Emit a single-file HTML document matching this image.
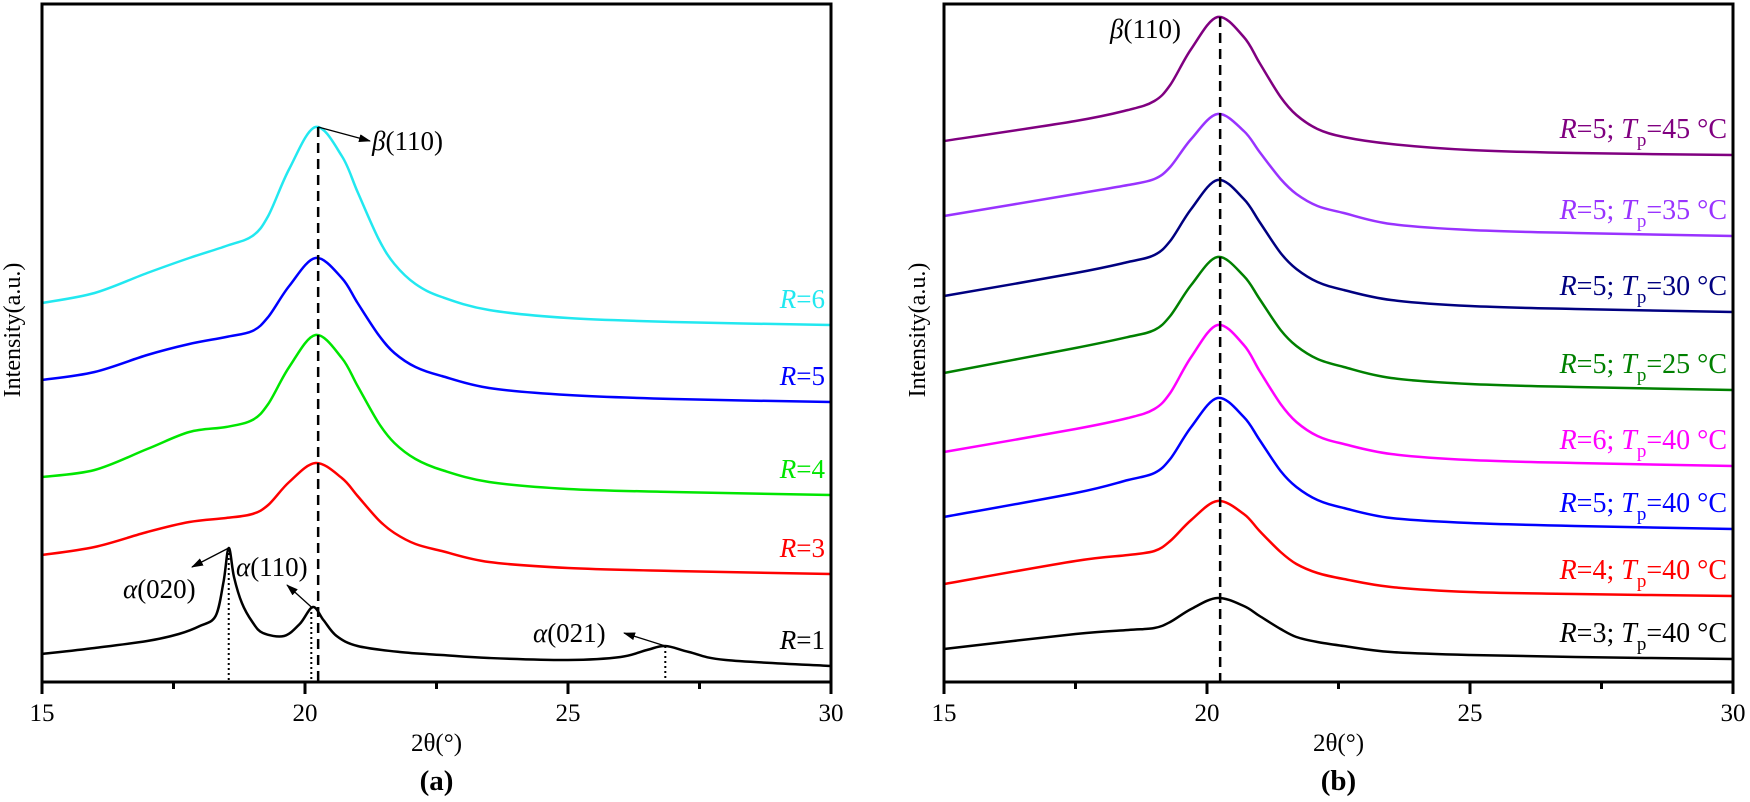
<!DOCTYPE html>
<html><head><meta charset="utf-8">
<style>
html,body{margin:0;padding:0;background:#fff;}
svg{display:block;font-family:"Liberation Serif",serif;}
</style></head>
<body>
<svg id="chart" width="1750" height="802" viewBox="0 0 1750 802" xmlns="http://www.w3.org/2000/svg">
<defs>
<marker id="ah" markerWidth="12" markerHeight="8" refX="11" refY="4" orient="auto" markerUnits="userSpaceOnUse">
<path d="M0,0 L12,4 L0,8 Z" fill="#000"/>
</marker>
</defs>
</svg>
<script>
// ---- shared axis data ----
const xMin = 15, xMax = 30;
const yMin = 0, yMax = 678;
const majorTicks = [15, 20, 25, 30];
const minorTicks = [17.5, 22.5, 27.5];
const tickLabels = ["15", "20", "25", "30"];

// ---- panel (a) data ----
const aX = [15,16,17,17.8,18.5,19.0,19.3,19.7,20.2,20.7,21.0,21.4,21.7,22.1,22.6,23.5,25,27,30];
const aR6 = [379,389,409,424,436,446,466,513,555,526,490,443,418,398,385,372,364,360,357];
const aR5 = [302,310,327,338,345,351,365,396,424,404,379,347,329,315,306,294,287,283,280];
const aR4 = [205,212,233,250,255,262,278,315,347,324,296,259,239,223,212,200,193,190,187];
const aR3 = [127,135,150,160,164,168,177,200,219,204,186,162,149,138,131,120,114,111,108];
const aR1X = [15,16,17,17.6,18,18.3,18.45,18.55,18.65,18.8,19.0,19.2,19.6,19.9,20.15,20.35,20.6,21,21.8,22.6,23.5,25,26,26.5,26.85,27.3,28,30];
const aR1 = [28,34,41,48,56,66,100,134,105,79,60,49,46,58,75,62,46,36,30,27,24,22,25,32,36,30,22,16];
const aLabels = ["R=6","R=5","R=4","R=3","R=1"];

// ---- panel (b) data ----
const bX = [15,17.5,18.5,19.0,19.3,19.7,20.2,20.7,21.0,21.4,21.7,22.1,22.6,23.5,25,27,30];
const bT45 = [541,561,572,581,597,633,665,645,619,585,567,553,545,538,532,529,527];
const bT35 = [466,488,497,503,515,543,568,551,530,503,488,476,469,458,452,449,446];
const bT30 = [386,409,420,427,441,473,502,483,460,429,413,400,392,382,376,373,370];
const bT25 = [309,334,345,352,366,397,425,406,383,352,336,323,315,304,298,295,292];
const bR6 = [230,253,264,273,289,325,357,337,311,278,260,246,238,228,222,219,216];
const bR5 = [165,189,202,209,223,255,284,265,242,211,195,182,174,164,159,156,153];
const bR4 = [98,121,127,131,141,162,181,168,151,130,118,109,103,95,90,88,86];
const bR3 = [33,48,52,54,60,73,84,76,66,53,45,40,36,30,27,25,23];
const bLabelR = ["5","5","5","5","6","5","4","3"];
const bLabelT = ["45","35","30","25","40","40","40","40"];

const svg = document.getElementById('chart');
const NS = 'http://www.w3.org/2000/svg';
const top0 = 4, bottom0 = 682;
function mk(tag, attrs, parent){
  const e = document.createElementNS(NS, tag);
  for (const k in attrs) e.setAttribute(k, attrs[k]);
  (parent||svg).appendChild(e);
  return e;
}
function makePanel(left, right){
  const sx = v => left + (v - xMin) / (xMax - xMin) * (right - left);
  const sy = v => bottom0 - (v - yMin) / (yMax - yMin) * (bottom0 - top0);
  return {sx, sy, left, right};
}
function pathD(xs, ys, P){
  const pts = xs.map((x,i)=>[P.sx(x), P.sy(ys[i])]);
  let d = 'M' + pts[0][0].toFixed(1) + ',' + pts[0][1].toFixed(1);
  for (let i=0;i<pts.length-1;i++){
    const p0 = pts[Math.max(0,i-1)], p1 = pts[i], p2 = pts[i+1], p3 = pts[Math.min(pts.length-1,i+2)];
    const t = 6;
    const c1 = [p1[0] + (p2[0]-p0[0])/t, p1[1] + (p2[1]-p0[1])/t];
    const c2 = [p2[0] - (p3[0]-p1[0])/t, p2[1] - (p3[1]-p1[1])/t];
    d += ' C' + c1[0].toFixed(1)+','+c1[1].toFixed(1)+' '+c2[0].toFixed(1)+','+c2[1].toFixed(1)+' '+p2[0].toFixed(1)+','+p2[1].toFixed(1);
  }
  return d;
}
function drawAxes(P, g, letter, ytitleX){
  mk('rect',{x:P.left,y:top0,width:P.right-P.left,height:bottom0-top0,fill:'none',stroke:'#000','stroke-width':3},g);
  majorTicks.forEach((t,i)=>{
    const tk = mk('line',{x1:P.sx(t),x2:P.sx(t),y1:bottom0,y2:bottom0+12,stroke:'#000','stroke-width':3},g);
    
    
    const tl = mk('text',{x:P.sx(t),y:721,'font-size':25,'text-anchor':'middle'},g);
    tl.textContent = tickLabels[i];
    
    
  });
  minorTicks.forEach(t=>{
    const tk = mk('line',{x1:P.sx(t),x2:P.sx(t),y1:bottom0,y2:bottom0+7,stroke:'#000','stroke-width':3},g);
    
    
  });
  const cx = (P.left+P.right)/2;
  const xt = mk('text',{x:cx,y:751,'font-size':25,'text-anchor':'middle'},g);
  xt.textContent = '2θ(°)';
  
  
  const pl = mk('text',{x:cx,y:790,'font-size':29,'font-weight':'bold','text-anchor':'middle'},g);
  pl.textContent = '('+letter+')';
  
  
  const yt = mk('text',{x:0,y:0,'font-size':24,'text-anchor':'middle',transform:'translate('+ytitleX+',330) rotate(-90)'},g);
  yt.textContent = 'Intensity(a.u.)';
  
  
}
function drawSeries(P, xs, ys, color, g, name){
  const p = mk('path',{d:pathD(xs,ys,P),fill:'none',stroke:color,'stroke-width':2.5,'stroke-linejoin':'round'},g);
  
  
}

// ---- panel a ----
const PA = makePanel(42, 831);
const gA = mk('g',{});


const aSeries = [[aX,aR6,'#22e8f0'],[aX,aR5,'#0000ff'],[aX,aR4,'#00e600'],[aX,aR3,'#ff0000'],[aR1X,aR1,'#000000']];
aSeries.forEach((s,i)=>{
  drawSeries(PA, s[0], s[1], s[2], gA, 'curve-'+aLabels[i].toLowerCase().replace('=',''));
  const endY = PA.sy(s[1][s[1].length-1]);
  const t = mk('text',{x:825,y:endY-17,'font-size':27,'text-anchor':'end',fill:s[2]},gA);
  t.innerHTML = '<tspan font-style="italic">R</tspan>=' + aLabels[i].split('=')[1];
  
  
});
const aBetaX = 20.25;
const pk = mk('line',{x1:PA.sx(aBetaX),x2:PA.sx(aBetaX),y1:PA.sy(Math.max(...aR6)),y2:bottom0,stroke:'#000','stroke-width':2.5,'stroke-dasharray':'10,6'},gA);


const alphaPeaks = [[18.55,134],[20.12,75],[26.85,36]];
alphaPeaks.forEach(a=>{
  const l = mk('line',{x1:PA.sx(a[0]),x2:PA.sx(a[0]),y1:PA.sy(a[1]),y2:bottom0,stroke:'#000','stroke-width':2,'stroke-dasharray':'2,3'},gA);
  
  
});
function arrow(x1,y1,x2,y2,g,name){
  const a = mk('line',{x1,y1,x2,y2,stroke:'#000','stroke-width':1.3,'marker-end':'url(#ah)'},g);
  
  
}
arrow(PA.sx(aBetaX),PA.sy(Math.max(...aR6)),370,141,gA,'beta-arrow');
arrow(PA.sx(18.55),PA.sy(134),192,567,gA,'alpha-020-arrow');
arrow(PA.sx(20.12),PA.sy(75),287,585,gA,'alpha-110-arrow');
arrow(PA.sx(26.85),PA.sy(36),624,633,gA,'alpha-021-arrow');
function annot(x,y,txt,g,name,anchor){
  const t = mk('text',{x,y,'font-size':27,'text-anchor':anchor||'start'},g);
  t.innerHTML = '<tspan font-style="italic">'+txt[0]+'</tspan>'+txt[1];
  
  
}
annot(372,150,['β','(110)'],gA,'beta-110-label');
annot(123,598,['α','(020)'],gA,'alpha-020-label');
annot(236,576,['α','(110)'],gA,'alpha-110-label');
annot(533,642,['α','(021)'],gA,'alpha-021-label');
drawAxes(PA, gA, 'a', 20);

// ---- panel b ----
const PB = makePanel(944, 1733);
const gB = mk('g',{});


const bSeries = [[bT45,'#800080'],[bT35,'#9933ff'],[bT30,'#000080'],[bT25,'#008000'],[bR6,'#ff00ff'],[bR5,'#0000ff'],[bR4,'#ff0000'],[bR3,'#000000']];
bSeries.forEach((s,i)=>{
  drawSeries(PB, bX, s[0], s[1], gB, 'curve-r'+bLabelR[i]+'-tp'+bLabelT[i]);
  const endY = PB.sy(s[0][s[0].length-1]);
  const t = mk('text',{x:1727,y:endY-17,'font-size':28,'text-anchor':'end',fill:s[1]},gB);
  t.innerHTML = '<tspan font-style="italic">R</tspan>='+bLabelR[i]+'; <tspan font-style="italic">T</tspan><tspan font-size="19" dy="8">p</tspan><tspan dy="-8">='+bLabelT[i]+' °C</tspan>';
  
  
});
const bBetaX = 20.25;
const pkb = mk('line',{x1:PB.sx(bBetaX),x2:PB.sx(bBetaX),y1:PB.sy(Math.max(...bT45)),y2:bottom0,stroke:'#000','stroke-width':2.5,'stroke-dasharray':'10,6'},gB);


annot(1110,38,['β','(110)'],gB,'beta-110-label');
drawAxes(PB, gB, 'b', 925);
</script>
</body></html>
